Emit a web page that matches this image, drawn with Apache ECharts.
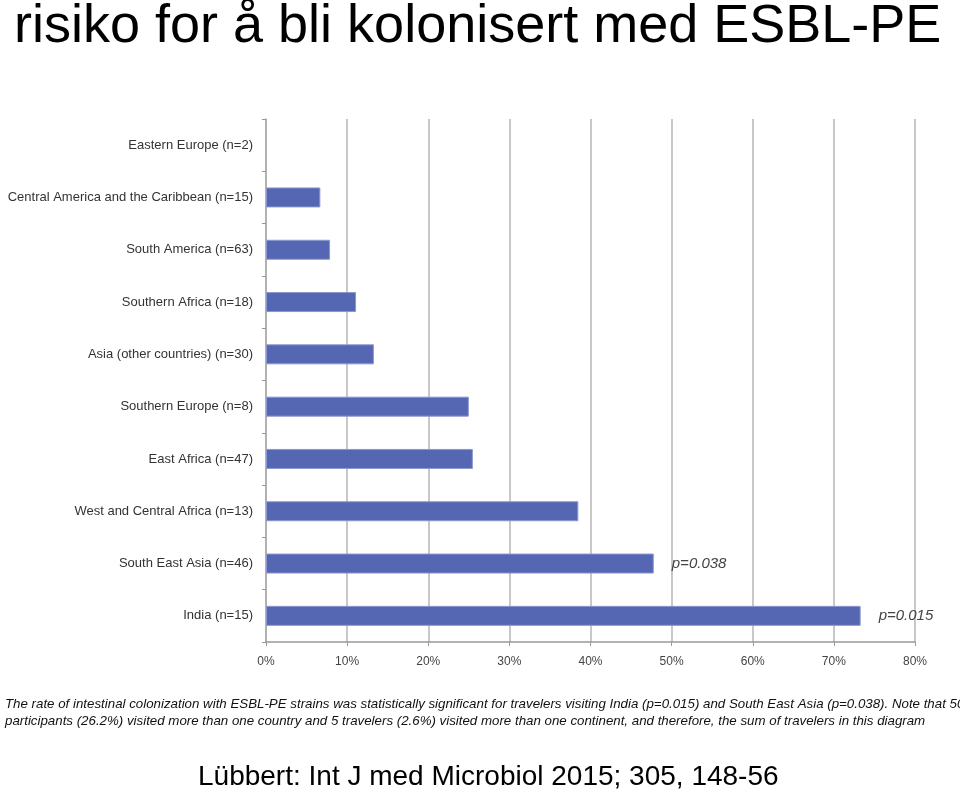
<!DOCTYPE html>
<html>
<head>
<meta charset="utf-8">
<script src="https://cdn.jsdelivr.net/npm/echarts@6/dist/echarts.min.js"></script>
<style>
  html, body { margin: 0; padding: 0; background: #fff; }
  #chart { width: 960px; height: 794px; }
</style>
</head>
<body>
<div id="chart"></div>
<script>
  // regions, top to bottom as drawn
  var regions = [
    "Eastern Europe (n=2)",
    "Central America and the Caribbean (n=15)",
    "South America (n=63)",
    "Southern Africa (n=18)",
    "Asia (other countries) (n=30)",
    "Southern Europe (n=8)",
    "East Africa (n=47)",
    "West and Central Africa (n=13)",
    "South East Asia (n=46)",
    "India (n=15)"
  ];
  // colonization rate, %
  var rates = [0, 6.7, 7.9, 11.1, 13.3, 25.0, 25.5, 38.5, 47.8, 73.3];
  var pValues = [null, null, null, null, null, null, null, null, "p=0.038", "p=0.015"];

  var chart = echarts.init(document.getElementById("chart"));

  var barData = rates.map(function (v, i) {
    var item = { value: v };
    if (v === 0) {
      item.itemStyle = { borderWidth: 0 };
    }
    if (pValues[i]) {
      item.label = {
        show: true,
        position: "right",
        distance: 18,
        formatter: pValues[i],
        fontStyle: "italic",
        fontSize: 15,
        color: "#444",
        fontFamily: "Liberation Sans"
      };
    }
    return item;
  });

  chart.setOption({
    animation: false,
    grid: {
      left: 266,
      right: 45,
      top: 119,
      bottom: 152
    },
    xAxis: {
      type: "value",
      min: 0,
      max: 80,
      interval: 10,
      axisLine: { show: true, lineStyle: { color: "#999", width: 1.5 } },
      axisTick: { show: true, length: 4, lineStyle: { color: "#999" } },
      axisLabel: {
        formatter: "{value}%",
        color: "#444",
        fontSize: 12,
        margin: 14,
        fontFamily: "Liberation Sans"
      },
      splitLine: { show: true, lineStyle: { color: "#c8c8c8", width: 2 } }
    },
    yAxis: {
      type: "category",
      inverse: true,
      data: regions,
      axisLine: { show: true, lineStyle: { color: "#aaa", width: 1.5 } },
      axisTick: { show: true, length: 4, lineStyle: { color: "#999" } },
      axisLabel: {
        color: "#333",
        fontSize: 13,
        margin: 13,
        fontFamily: "Liberation Sans"
      }
    },
    series: [{
      type: "bar",
      data: barData,
      barWidth: 20,
      itemStyle: {
        color: "#5566b2",
        borderColor: "#8d98cf",
        borderWidth: 1
      }
    }],
    graphic: [
      {
        type: "text",
        left: 14,
        top: 0,
        style: {
          text: "risiko for å bli kolonisert med ESBL-PE",
          font: "54px 'Liberation Sans'",
          fill: "#000"
        }
      },
      {
        type: "text",
        left: 5,
        top: 696,
        style: {
          text: "The rate of intestinal colonization with ESBL-PE strains was statistically significant for travelers visiting India (p=0.015) and South East Asia (p=0.038). Note that 50\nparticipants (26.2%) visited more than one country and 5 travelers (2.6%) visited more than one continent, and therefore, the sum of travelers in this diagram",
          font: "italic 13.3px 'Liberation Sans'",
          lineHeight: 17,
          fill: "#111"
        }
      },
      {
        type: "text",
        left: 198,
        top: 763,
        style: {
          text: "Lübbert: Int J med Microbiol 2015; 305, 148-56",
          font: "28px 'Liberation Sans'",
          fill: "#000"
        }
      }
    ]
  });
</script>
</body>
</html>
